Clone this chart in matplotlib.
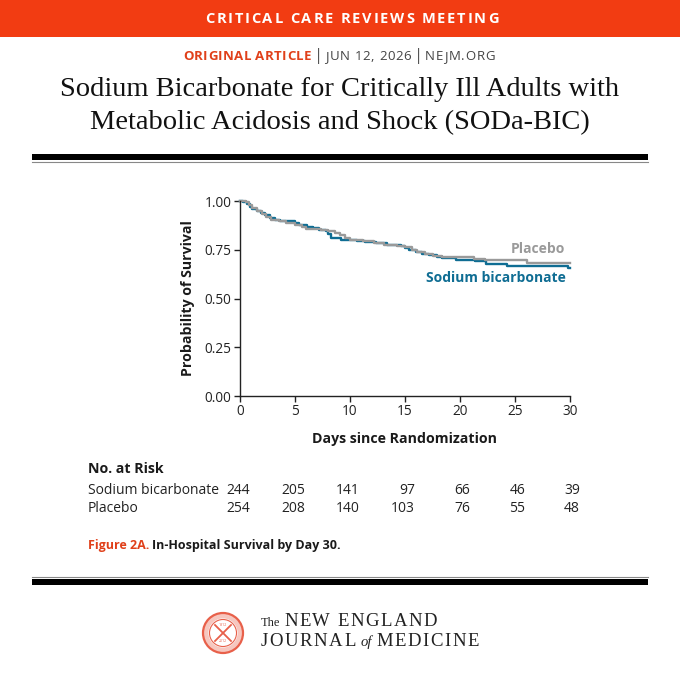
import matplotlib
matplotlib.use("Agg")
import matplotlib.pyplot as plt
import matplotlib.transforms as mtrans
from matplotlib.patches import Rectangle, Circle
from matplotlib.lines import Line2D

plt.rcParams['font.family'] = ['Open Sans', 'DejaVu Sans']

# Kaplan-Meier steps
sodium_days = [0, 0.3, 0.6, 0.9, 1.1, 1.5, 1.9, 2.3, 2.7, 3.2, 3.6, 4.6, 5.0, 5.4, 6.1, 6.6,
               7.2, 7.8, 8.0, 8.3, 9.2, 10.6, 11.4, 12.4, 13.4, 14.6, 15.0, 15.4, 16.0, 16.5,
               17.2, 17.9, 18.4, 19.6, 21.4, 22.4, 24.3, 29.8, 30]
sodium_surv = [1.0, 0.995, 0.985, 0.97, 0.96, 0.95, 0.94, 0.93, 0.915, 0.905, 0.90, 0.895,
               0.885, 0.877, 0.868, 0.86, 0.853, 0.845, 0.83, 0.812, 0.802, 0.793, 0.79, 0.783,
               0.776, 0.768, 0.758, 0.748, 0.737, 0.728, 0.722, 0.713, 0.706, 0.696, 0.69,
               0.679, 0.666, 0.655, 0.655]
placebo_days = [0, 0.5, 0.8, 1.1, 1.5, 2.0, 2.4, 2.8, 3.5, 4.2, 5.0, 5.6, 6.0, 7.4, 8.0, 8.6,
                9.1, 9.5, 10.0, 11.2, 12.2, 13.1, 14.3, 15.0, 15.6, 16.1, 16.8, 17.5, 18.4,
                21.3, 22.3, 26.1, 30]
placebo_surv = [1.0, 0.995, 0.98, 0.965, 0.95, 0.935, 0.92, 0.905, 0.895, 0.885, 0.875,
                0.865, 0.857, 0.852, 0.845, 0.838, 0.825, 0.808, 0.80, 0.793, 0.784, 0.773,
                0.768, 0.762, 0.75, 0.738, 0.728, 0.72, 0.714, 0.704, 0.697, 0.684, 0.684]

risk_days = [0, 5, 10, 15, 20, 25, 30]
risk_sodium = [244, 205, 141, 97, 66, 46, 39]
risk_placebo = [254, 208, 140, 103, 76, 55, 48]

BLUE = '#0f6d93'
GREY = '#9a9a9a'
RED = '#f23c12'
TXT = '#1a1a1a'

W = H = 680
fig = plt.figure(figsize=(6.8, 6.8), dpi=100)
fig.patch.set_facecolor('white')
rend = fig.canvas.get_renderer()


def fx(x):
    return x / W


def fy(y):
    return 1 - y / H


def spaced(x, y, s, step, **kw):
    # draw a string one letter at a time to mimic letter spacing
    for ch in s:
        t = fig.text(fx(x), fy(y), ch, ha='left', va='center', **kw)
        x += t.get_window_extent(rend).width + step
    return x - step


# banner
fig.add_artist(Rectangle((0, fy(37)), 1, 37 / H, transform=fig.transFigure,
                         facecolor=RED, edgecolor='none'))
spaced(205, 19, 'CRITICAL CARE REVIEWS MEETING', 1.8, color='white', fontsize=10.5,
       fontweight='bold')

# sub header
x = spaced(183, 57, 'ORIGINAL ARTICLE', 0.4, color='#e0401a', fontsize=9.5, fontweight='bold')
fig.text(fx(x + 7), fy(56), '|', color='#555555', fontsize=12, ha='center', va='center')
x = spaced(x + 14, 57, 'JUN 12, 2026', 0.6, color='#444444', fontsize=9.5)
fig.text(fx(x + 7), fy(56), '|', color='#555555', fontsize=12, ha='center', va='center')
spaced(x + 14, 57, 'NEJM.ORG', 0.8, color='#444444', fontsize=9.5)

# title
fig.text(0.5, fy(90), 'Sodium Bicarbonate for Critically Ill Adults with', fontsize=20.5,
         family='Liberation Serif', color='#111111', ha='center', va='center')
fig.text(0.5, fy(123), 'Metabolic Acidosis and Shock (SODa-BIC)', fontsize=20.5,
         family='Liberation Serif', color='#111111', ha='center', va='center')

# rules
fig.add_artist(Rectangle((fx(32), fy(160)), fx(616), 6 / H, transform=fig.transFigure,
                         facecolor='black', edgecolor='none'))
fig.add_artist(Line2D([fx(32), fx(648)], [fy(162), fy(162)], color='#888888', lw=0.8))
fig.add_artist(Line2D([fx(32), fx(648)], [fy(577), fy(577)], color='#888888', lw=0.8))
fig.add_artist(Rectangle((fx(32), fy(585)), fx(616), 6 / H, transform=fig.transFigure,
                         facecolor='black', edgecolor='none'))

# survival plot
ax = fig.add_axes([fx(240), fy(396), fx(330), 195 / H])
ax.plot(sodium_days, sodium_surv, drawstyle='steps-post', color=BLUE, lw=1.7, clip_on=False)
ax.plot(placebo_days, placebo_surv, drawstyle='steps-post', color=GREY, lw=1.7, clip_on=False)
ax.set_xlim(0, 30)
ax.set_ylim(0, 1)
ax.set_xticks(risk_days)
ax.set_yticks([0, 0.25, 0.5, 0.75, 1.0])
ax.set_yticklabels(['0.00', '0.25', '0.50', '0.75', '1.00'])
for s in ['top', 'right']:
    ax.spines[s].set_visible(False)
for s in ['left', 'bottom']:
    ax.spines[s].set_color('#222222')
    ax.spines[s].set_linewidth(1.0)
ax.tick_params(direction='out', length=4, width=1, color='#222222', labelsize=9.8,
               labelcolor='#222222', pad=2)
ax.set_xlabel('Days since Randomization', fontsize=10.2, fontweight='bold', color=TXT,
              labelpad=9)
ax.set_ylabel('Probability of Survival', fontsize=10.2, fontweight='bold', color=TXT,
              labelpad=7)
ax.text(29.6, 0.755, 'Placebo', color=GREY, fontsize=10, fontweight='bold', ha='right',
        va='center')
ax.text(29.6, 0.605, 'Sodium bicarbonate', color=BLUE, fontsize=10, fontweight='bold',
        ha='right', va='center')

# number at risk
fig.text(fx(88), fy(469), 'No. at Risk', fontsize=10.2, fontweight='bold', color=TXT,
         ha='left', va='center')
fig.text(fx(88), fy(490), 'Sodium bicarbonate', fontsize=10, color='#222222', ha='left',
         va='center')
fig.text(fx(88), fy(508), 'Placebo', fontsize=10, color='#222222', ha='left', va='center')
shift = mtrans.ScaledTranslation(10 / 100, 0, fig.dpi_scale_trans)
tr = mtrans.blended_transform_factory(ax.transData + shift, fig.transFigure)
for d, a, b in zip(risk_days, risk_sodium, risk_placebo):
    fig.text(d, fy(490), str(a), transform=tr, fontsize=10, color='#222222', ha='right',
             va='center')
    fig.text(d, fy(508), str(b), transform=tr, fontsize=10, color='#222222', ha='right',
             va='center')

# caption
cap = fig.text(fx(88), fy(545), 'Figure 2A.', fontsize=9, fontweight='bold', color='#e0401a',
               ha='left', va='center')
cw = cap.get_window_extent(rend).width
fig.text(fx(88 + cw + 3), fy(545), 'In-Hospital Survival by Day 30.', fontsize=9,
         fontweight='bold', color=TXT, ha='left', va='center')

# NEJM logo
lax = fig.add_axes([fx(200), fy(656), fx(46), 46 / H])
lax.set_xlim(-23, 23)
lax.set_ylim(-23, 23)
lax.set_aspect('equal')
lax.axis('off')
LOGO = '#e8604a'
lax.add_patch(Circle((0, 0), 20, fill=False, ec=LOGO, lw=1.6))
lax.add_patch(Circle((0, 0), 13.5, fill=False, ec=LOGO, lw=0.8))
lax.add_patch(Circle((0, 0), 17, fill=False, ec=LOGO, lw=3.5, alpha=0.35))
lax.plot([-8, 8], [-8, 8], color=LOGO, lw=1.3)
lax.plot([-8, 8], [8, -8], color=LOGO, lw=1.3)
lax.text(0, 8, '1812', color=LOGO, fontsize=2.5, ha='center', va='center')
lax.text(0, -8, '2012', color=LOGO, fontsize=2.5, ha='center', va='center')

fig.text(fx(261), fy(623), 'The', family='Liberation Serif', fontsize=9,
         color='#222222', ha='left', va='center')
spaced(284, 622, 'NEW ENGLAND', 1.5, family='Liberation Serif', fontsize=13.5,
       color='#222222')
x = spaced(261, 641, 'JOURNAL', 1.5, family='Liberation Serif', fontsize=13.5, color='#222222')
fig.text(fx(x + 5), fy(642), 'of', family='Liberation Serif', style='italic', fontsize=10.5,
         color='#222222', ha='left', va='center')
spaced(x + 21, 641, 'MEDICINE', 1.5, family='Liberation Serif', fontsize=13.5,
       color='#222222')

fig.savefig('out.png', dpi=100, facecolor='white')
